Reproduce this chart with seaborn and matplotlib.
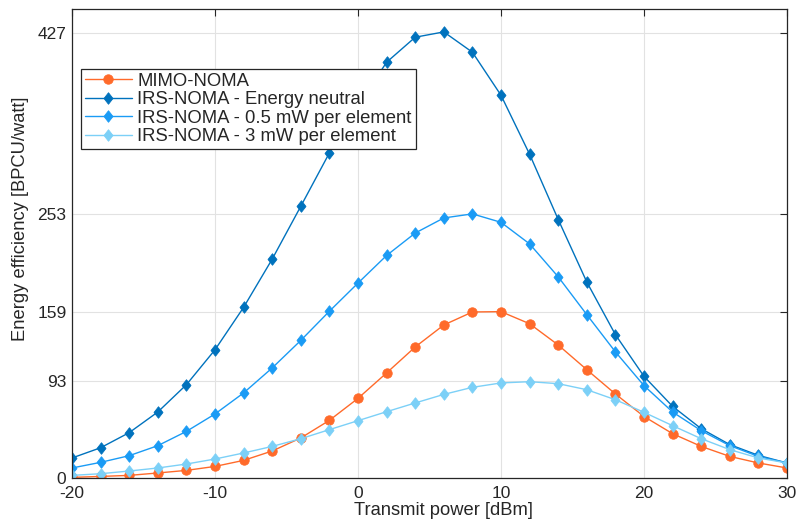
import numpy as np
import pandas as pd
import matplotlib
matplotlib.use("Agg")
import matplotlib.pyplot as plt
from matplotlib.path import Path
import seaborn as sns

x_dbm = list(range(-20, 31, 2))

mimo_noma = [0.6, 1.5, 2.5, 4.8, 7.3, 11.1, 16.9, 25.9, 38.4, 55.3, 76.4, 100.8, 125.7,
             146.8, 159.3, 159.6, 148.0, 127.6, 103.9, 80.6, 59.0, 42.5, 30.3, 20.7, 14.4, 9.6]
irs_neutral = [19.2, 29.0, 43.5, 63.3, 89.5, 123.0, 163.7, 210.0, 260.7, 311.9, 357.0, 398.9, 422.9,
               428.0, 408.5, 367.2, 310.6, 248.0, 188.0, 137.5, 97.5, 68.7, 47.3, 32.0, 21.7, 14.4]
irs_05mw = [9.6, 15.0, 21.4, 31.0, 44.7, 61.4, 81.6, 105.6, 132.0, 160.0, 187.0, 213.5, 235.0,
            249.5, 253.4, 245.3, 224.6, 193.0, 156.7, 121.0, 88.6, 63.3, 45.4, 31.0, 20.7, 14.4]
irs_3mw = [2.5, 4.1, 6.7, 9.6, 13.4, 18.2, 24.0, 30.3, 37.7, 46.4, 55.0, 63.6, 72.0,
           80.2, 87.0, 91.2, 92.4, 90.5, 84.7, 75.1, 63.0, 50.2, 37.7, 27.2, 19.2, 14.4]

labels = ["MIMO-NOMA", "IRS-NOMA - Energy neutral",
          "IRS-NOMA - 0.5 mW per element", "IRS-NOMA - 3 mW per element"]
series = [mimo_noma, irs_neutral, irs_05mw, irs_3mw]
colors = ["#FF6A2A", "#0072BD", "#1A9BF5", "#7CD0F7"]

xticks = [-20, -10, 0, 10, 20, 30]
yticks = [0, 93, 159, 253, 427]

diamond = Path([(0, 1), (0.78, 0), (0, -1), (-0.78, 0), (0, 1)],
               [Path.MOVETO, Path.LINETO, Path.LINETO, Path.LINETO, Path.CLOSEPOLY])
markers = ["o", diamond, diamond, diamond]
msizes = [6.8, 8.3, 8.3, 8.3]

df = pd.DataFrame({
    "x": x_dbm * len(series),
    "y": sum(series, []),
    "series": sum([[l] * len(x_dbm) for l in labels], []),
})

sns.set_theme(style="whitegrid")
plt.rcParams["font.family"] = ["Liberation Sans", "DejaVu Sans"]
plt.rcParams["axes.unicode_minus"] = False

fig = plt.figure(figsize=(7.97, 5.22), dpi=100)
ax = fig.add_axes([0.0903, 0.0843, 0.8972, 0.8985])

sns.lineplot(data=df, x="x", y="y", hue="series", style="series",
             hue_order=labels, style_order=labels,
             palette=dict(zip(labels, colors)),
             markers=dict(zip(labels, markers)),
             dashes=False, markersize=8.3, linewidth=1.0,
             ax=ax, legend=False)

for line, ms in zip(ax.lines, msizes):
    line.set_markersize(ms)
    line.set_markeredgecolor(line.get_color())
    line.set_markeredgewidth(0.6)

ax.set_xlim(-20, 30)
ax.set_ylim(0, 450)
ax.set_xticks(xticks)
ax.set_yticks(yticks)
ax.set_xlabel("Transmit power [dBm]", fontsize=13.2, color="#262626")
ax.set_ylabel("Energy efficiency [BPCU/watt]", fontsize=13.2, color="#262626")
ax.xaxis.set_label_coords(0.519, -0.051)
ax.yaxis.set_label_coords(-0.060, 0.552)
ax.tick_params(axis="x", pad=6)
ax.tick_params(axis="y", pad=4)
ax.tick_params(axis="both", labelsize=12.5, colors="#262626", direction="in",
               length=5, width=0.8, top=True, right=True)
ax.grid(True, color="#E2E2E2", linewidth=0.8)
ax.set_facecolor("white")
for sp in ax.spines.values():
    sp.set_visible(True)
    sp.set_color("#262626")
    sp.set_linewidth(0.9)

leg = ax.legend(ax.lines[:4], labels, loc="upper left", bbox_to_anchor=(0.012, 0.873),
                fontsize=13.3, frameon=True, fancybox=False, framealpha=1, edgecolor="#262626",
                borderpad=0.22, labelspacing=0.08, handlelength=2.55, handletextpad=0.3,
                borderaxespad=0)
leg.get_frame().set_linewidth(0.9)

fig.savefig("out.png", dpi=100)
